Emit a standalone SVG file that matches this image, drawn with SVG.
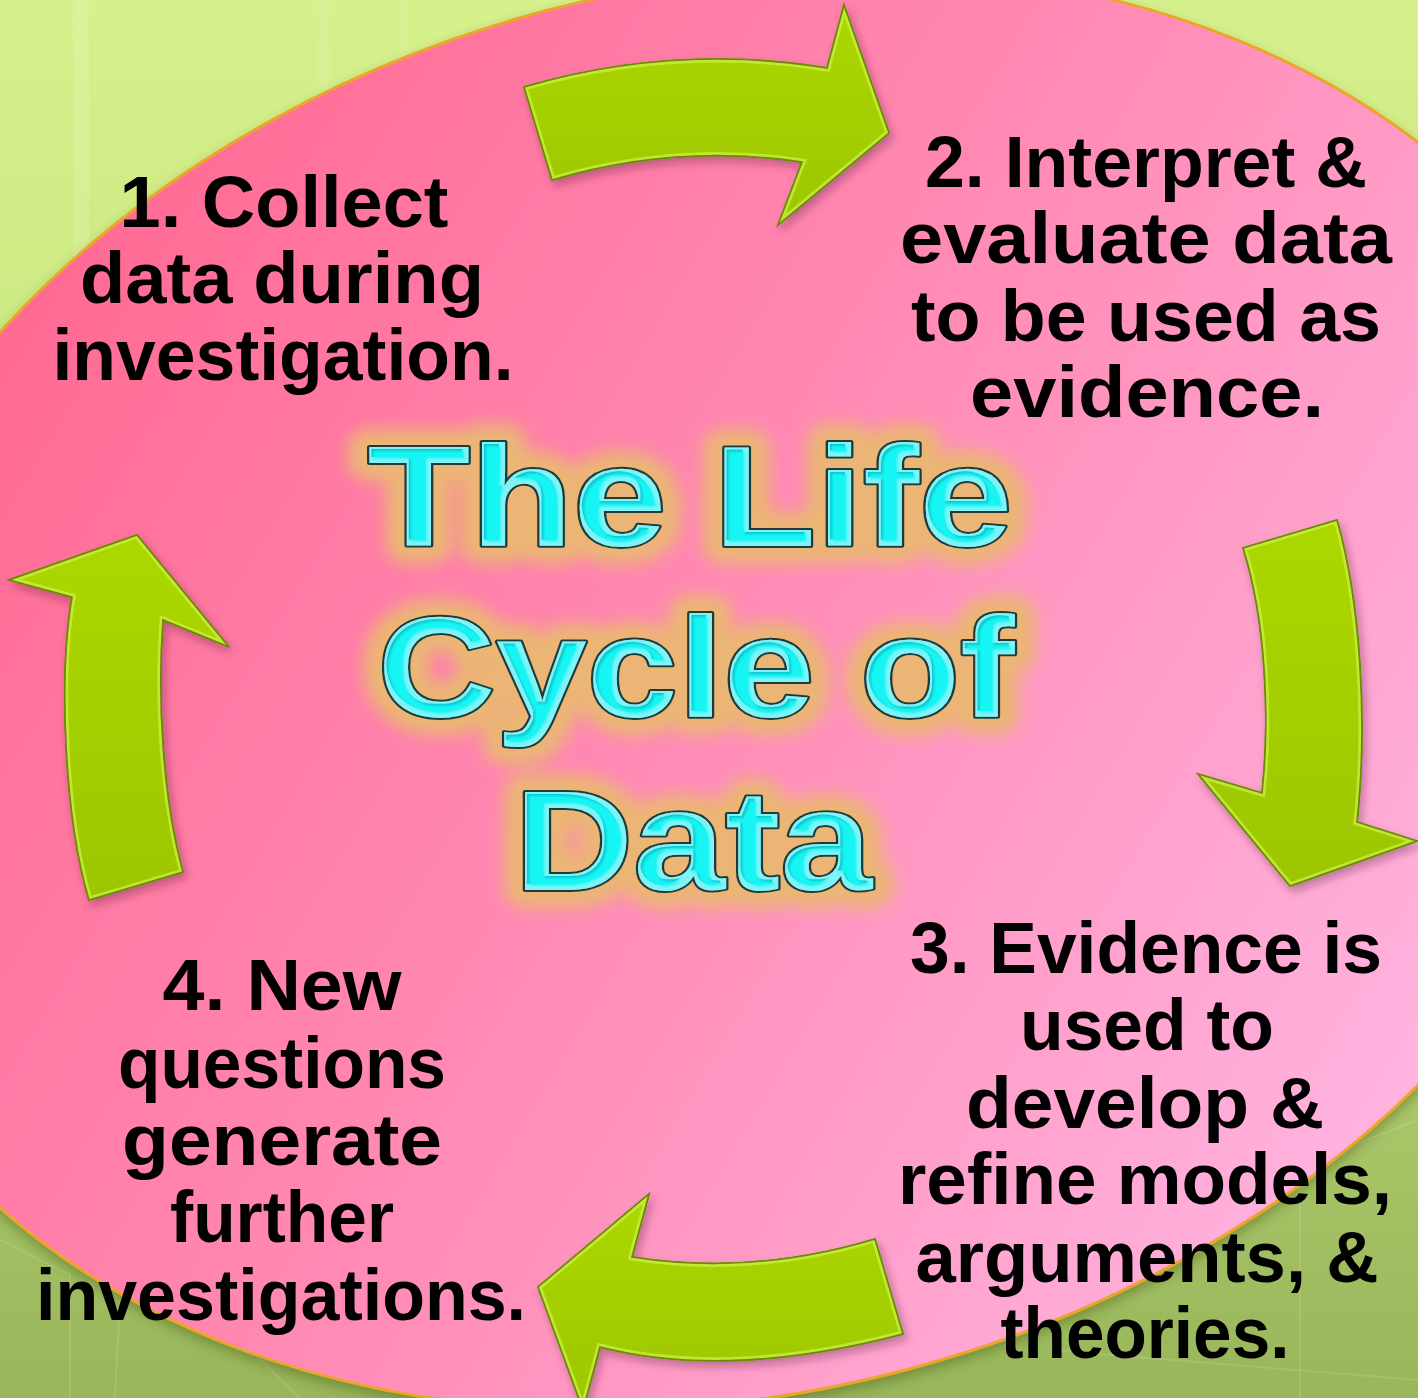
<svg xmlns="http://www.w3.org/2000/svg" xmlns:xlink="http://www.w3.org/1999/xlink" width="1418" height="1398" viewBox="0 0 1418 1398">
  <style>
    .lbl { font-family: "Liberation Sans", Arial, sans-serif; font-weight: bold; font-size: 72px; fill: #000; text-anchor: middle; }
    .ttl { font-family: "Liberation Sans", Arial, sans-serif; font-weight: bold; font-size: 142px; text-anchor: middle; }
    .glow { fill: #ebb574; stroke: #ebb574; stroke-width: 36; stroke-linejoin: round; }
    .outline { fill: #1f3a3a; stroke: #1f3a3a; stroke-width: 4; stroke-linejoin: round; }
    .face { fill: #10eff0; }
    .arrow { fill: url(#limeFill); stroke: #6a8c00; stroke-width: 1.6; stroke-linejoin: miter; }
    .arrowHi { fill: none; stroke: #cdee45; stroke-width: 7; opacity: 0.75; }
    .deco { fill: none; stroke: #ffffff; stroke-width: 2; opacity: 0.12; }
  </style>
  <defs>
    <linearGradient id="bgFill" x1="0" y1="0" x2="0" y2="1">
      <stop offset="0" stop-color="#d6f08c"/>
      <stop offset="0.45" stop-color="#c6e47a"/>
      <stop offset="0.8" stop-color="#a9c568"/>
      <stop offset="1" stop-color="#98b65a"/>
    </linearGradient>
    <linearGradient id="pinkFill" gradientUnits="userSpaceOnUse" x1="150" y1="150" x2="1300" y2="1320">
      <stop offset="0" stop-color="#ff6b94"/>
      <stop offset="0.5" stop-color="#ff8db8"/>
      <stop offset="1" stop-color="#ffb6e2"/>
    </linearGradient>
    <linearGradient id="limeFill" x1="0" y1="0" x2="0" y2="1">
      <stop offset="0" stop-color="#acd800"/>
      <stop offset="1" stop-color="#9cc600"/>
    </linearGradient>
    <filter id="softShadow" x="-10%" y="-10%" width="120%" height="120%">
      <feDropShadow dx="3" dy="5" stdDeviation="4" flood-color="#4a2030" flood-opacity="0.35"/>
    </filter>
    <filter id="rimShadow" x="-10%" y="-10%" width="120%" height="120%">
      <feDropShadow dx="0" dy="6" stdDeviation="6" flood-color="#304010" flood-opacity="0.35"/>
    </filter>
    <filter id="haze" x="-20%" y="-30%" width="140%" height="160%">
      <feGaussianBlur stdDeviation="8"/>
    </filter>
    <filter id="bevel" x="-5%" y="-5%" width="110%" height="110%">
      <feMorphology in="SourceAlpha" operator="erode" radius="4" result="core"/>
      <feGaussianBlur in="core" stdDeviation="1" result="coreSoft"/>
      <feFlood flood-color="#12c6cc" result="rimColor"/>
      <feComposite in="rimColor" in2="SourceAlpha" operator="in" result="rim"/>
      <feFlood flood-color="#14f4f4" result="coreColor"/>
      <feComposite in="coreColor" in2="coreSoft" operator="in" result="coreFill"/>
      <feOffset in="core" dx="-2" dy="-2" result="coreUp"/>
      <feComposite in="SourceAlpha" in2="coreUp" operator="out" result="edgeUp"/>
      <feFlood flood-color="#8ffcff" flood-opacity="0.8" result="hiColor"/>
      <feComposite in="hiColor" in2="edgeUp" operator="in" result="hi"/>
      <feMerge>
        <feMergeNode in="rim"/>
        <feMergeNode in="hi"/>
        <feMergeNode in="coreFill"/>
      </feMerge>
    </filter>
    <path id="arrowTop" d="M524,87 Q674,43 827,68 L844,5 L889,133 L778,225 L802,162 Q677,143 552,180 Z"/>
    <path id="arrowRight" d="M1243,548 L1337,520 C1360,600 1368,720 1357,822 L1417,841 L1290,886 L1198,774 L1262,793 C1270,720 1266,620 1243,548 Z"/>
    <path id="arrowBottom" d="M875,1239 Q752,1276 632,1257 L649,1194 L538,1287 L583,1410 L600,1347 Q728,1380 903,1334 Z"/>
    <path id="arrowLeft" d="M89,900 C65,820 58,680 72,597 L9,580 L137,535 L229,647 L163,620 C157,700 163,800 183,872 Z"/>
    <clipPath id="clipTop"><use xlink:href="#arrowTop"/></clipPath>
    <clipPath id="clipRight"><use xlink:href="#arrowRight"/></clipPath>
    <clipPath id="clipBottom"><use xlink:href="#arrowBottom"/></clipPath>
    <clipPath id="clipLeft"><use xlink:href="#arrowLeft"/></clipPath>
  </defs>

  <!-- green backdrop with faint texture -->
  <g id="background">
    <rect x="0" y="0" width="1418" height="1398" fill="url(#bgFill)"/>
    <rect x="73" y="0" width="16" height="420" fill="#ffffff" opacity="0.12"/>
    <rect x="318" y="0" width="12" height="260" fill="#ffffff" opacity="0.08"/>
    <rect x="400" y="0" width="8" height="160" fill="#ffffff" opacity="0.08"/>
    <polyline class="deco" points="0,1240 70,1275 70,1398"/>
    <polyline class="deco" points="120,1300 115,1398"/>
    <polyline class="deco" points="230,1330 300,1398"/>
    <polyline class="deco" points="1418,1120 1340,1150 1300,1190 1300,1398"/>
    <polyline class="deco" points="1050,1350 1418,1380"/>
  </g>

  <!-- large pink disc -->
  <g id="disc" filter="url(#rimShadow)">
    <ellipse cx="727" cy="690" rx="934" ry="703" transform="rotate(-14.8 727 690)" fill="url(#pinkFill)" stroke="#eba52c" stroke-width="3"/>
  </g>

  <!-- curved arrows linking the four steps -->
  <g id="connectors">
    <g id="arrow-1-2" filter="url(#softShadow)">
      <use xlink:href="#arrowTop" class="arrow"/>
      <use xlink:href="#arrowTop" class="arrowHi" clip-path="url(#clipTop)"/>
      <use xlink:href="#arrowTop" fill="none" stroke="#6a8c00" stroke-width="1.6"/>
    </g>
    <g id="arrow-2-3" filter="url(#softShadow)">
      <use xlink:href="#arrowRight" class="arrow"/>
      <use xlink:href="#arrowRight" class="arrowHi" clip-path="url(#clipRight)"/>
      <use xlink:href="#arrowRight" fill="none" stroke="#6a8c00" stroke-width="1.6"/>
    </g>
    <g id="arrow-3-4" filter="url(#softShadow)">
      <use xlink:href="#arrowBottom" class="arrow"/>
      <use xlink:href="#arrowBottom" class="arrowHi" clip-path="url(#clipBottom)"/>
      <use xlink:href="#arrowBottom" fill="none" stroke="#6a8c00" stroke-width="1.6"/>
    </g>
    <g id="arrow-4-1" filter="url(#softShadow)">
      <use xlink:href="#arrowLeft" class="arrow"/>
      <use xlink:href="#arrowLeft" class="arrowHi" clip-path="url(#clipLeft)"/>
      <use xlink:href="#arrowLeft" fill="none" stroke="#6a8c00" stroke-width="1.6"/>
    </g>
  </g>

  <!-- step labels -->
  <g id="step1">
    <text class="lbl" x="284" y="227" textLength="329" lengthAdjust="spacingAndGlyphs">1. Collect</text>
    <text class="lbl" x="282" y="303" textLength="404" lengthAdjust="spacingAndGlyphs">data during</text>
    <text class="lbl" x="283" y="380" textLength="461" lengthAdjust="spacingAndGlyphs">investigation.</text>
  </g>
  <g id="step2">
    <text class="lbl" x="1146" y="187" textLength="442" lengthAdjust="spacingAndGlyphs">2. Interpret &amp;</text>
    <text class="lbl" x="1146" y="263" textLength="492" lengthAdjust="spacingAndGlyphs">evaluate data</text>
    <text class="lbl" x="1146" y="341" textLength="470" lengthAdjust="spacingAndGlyphs">to be used as</text>
    <text class="lbl" x="1147" y="417" textLength="354" lengthAdjust="spacingAndGlyphs">evidence.</text>
  </g>
  <g id="step3">
    <text class="lbl" x="1146" y="973" textLength="472" lengthAdjust="spacingAndGlyphs">3. Evidence is</text>
    <text class="lbl" x="1147" y="1050" textLength="254" lengthAdjust="spacingAndGlyphs">used to</text>
    <text class="lbl" x="1145" y="1128" textLength="358" lengthAdjust="spacingAndGlyphs">develop &amp;</text>
    <text class="lbl" x="1145" y="1204" textLength="494" lengthAdjust="spacingAndGlyphs">refine models,</text>
    <text class="lbl" x="1147" y="1282" textLength="463" lengthAdjust="spacingAndGlyphs">arguments, &amp;</text>
    <text class="lbl" x="1145" y="1358" textLength="289" lengthAdjust="spacingAndGlyphs">theories.</text>
  </g>
  <g id="step4">
    <text class="lbl" x="282" y="1010" textLength="239" lengthAdjust="spacingAndGlyphs">4. New</text>
    <text class="lbl" x="282" y="1088" textLength="328" lengthAdjust="spacingAndGlyphs">questions</text>
    <text class="lbl" x="282" y="1165" textLength="320" lengthAdjust="spacingAndGlyphs">generate</text>
    <text class="lbl" x="282" y="1242" textLength="224" lengthAdjust="spacingAndGlyphs">further</text>
    <text class="lbl" x="281" y="1320" textLength="490" lengthAdjust="spacingAndGlyphs">investigations.</text>
  </g>

  <!-- central title: glow, dark outline, bevelled cyan face -->
  <g id="title">
    <g filter="url(#haze)">
      <text class="ttl glow" x="690" y="546" textLength="645" lengthAdjust="spacingAndGlyphs">The Life</text>
      <text class="ttl glow" x="696" y="717" textLength="637" lengthAdjust="spacingAndGlyphs">Cycle of</text>
      <text class="ttl glow" x="693" y="890" textLength="358" lengthAdjust="spacingAndGlyphs">Data</text>
    </g>
    <g>
      <text class="ttl outline" x="690" y="546" textLength="645" lengthAdjust="spacingAndGlyphs">The Life</text>
      <text class="ttl outline" x="696" y="717" textLength="637" lengthAdjust="spacingAndGlyphs">Cycle of</text>
      <text class="ttl outline" x="693" y="890" textLength="358" lengthAdjust="spacingAndGlyphs">Data</text>
    </g>
    <g filter="url(#bevel)">
      <text class="ttl face" x="690" y="546" textLength="645" lengthAdjust="spacingAndGlyphs">The Life</text>
      <text class="ttl face" x="696" y="717" textLength="637" lengthAdjust="spacingAndGlyphs">Cycle of</text>
      <text class="ttl face" x="693" y="890" textLength="358" lengthAdjust="spacingAndGlyphs">Data</text>
    </g>
  </g>
</svg>
